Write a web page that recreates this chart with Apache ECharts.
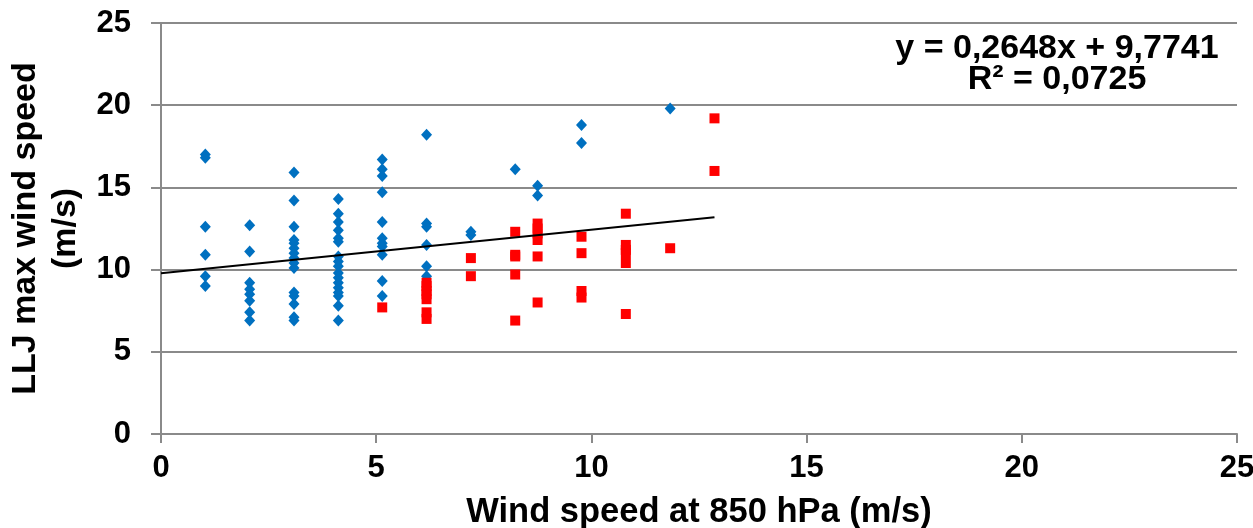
<!DOCTYPE html>
<html>
<head>
<meta charset="utf-8">
<script src="https://cdn.jsdelivr.net/npm/echarts@6/dist/echarts.min.js"></script>
<style>
html,body{margin:0;padding:0;background:#fff;}
#chart{width:1253px;height:528px;}
</style>
</head>
<body>
<div id="chart"></div>
<script>
// Blue series (diamonds)
const blueX = [
  1.03,1.03,1.03,1.03,1.03,1.03,
  2.06,2.06,2.06,2.06,2.06,2.06,2.06,2.06,
  3.09,3.09,3.09,3.09,3.09,3.09,3.09,3.09,3.09,3.09,3.09,3.09,3.09,3.09,3.09,
  4.12,4.12,4.12,4.12,4.12,4.12,4.12,4.12,4.12,4.12,4.12,4.12,4.12,4.12,4.12,4.12,4.12,
  5.14,5.14,5.14,5.14,5.14,5.14,5.14,5.14,5.14,5.14,5.14,
  6.17,6.17,6.17,6.17,6.17,6.17,
  7.2,7.2,
  8.23,
  8.75,8.75,
  9.77,9.77,
  11.83
];
const blueY = [
  17.0,16.8,12.6,10.9,9.6,9.0,
  12.7,11.1,9.2,8.8,8.5,8.1,7.4,6.9,
  15.9,14.2,12.6,11.8,11.6,11.3,11.0,10.7,10.4,10.1,8.6,8.4,7.9,7.1,6.9,
  14.3,13.4,12.9,12.4,11.9,11.7,10.8,10.5,10.2,9.8,9.5,9.2,8.9,8.6,8.4,7.8,6.9,
  16.7,16.1,15.7,14.7,12.9,11.9,11.6,11.4,10.9,9.3,8.4,
  18.2,12.8,12.6,11.5,10.2,9.6,
  12.3,12.1,
  16.1,
  15.1,14.5,
  18.8,17.7,
  19.8
];
// Red series (squares)
const redX = [
  5.14,
  6.17,6.17,6.17,6.17,6.17,6.17,6.17,
  7.2,7.2,
  8.23,8.23,8.23,8.23,8.23,
  8.75,8.75,8.75,8.75,8.75,8.75,
  9.77,9.77,9.77,9.77,
  10.8,10.8,10.8,10.8,10.8,10.8,
  11.83,
  12.86,12.86
];
const redY = [
  7.7,
  9.2,9.0,8.7,8.5,8.2,7.4,7.0,
  10.7,9.6,
  12.3,10.9,10.8,9.7,6.9,
  12.8,12.5,12.2,11.8,10.8,8.0,
  12.0,11.0,8.7,8.3,
  13.4,11.5,11.2,11.0,10.4,7.3,
  11.3,
  19.2,16.0
];
// Linear trendline (from the equation shown on the chart)
const trendSlope = 0.2648;
const trendIntercept = 9.7741;
const trendR2 = '0,0725';
const trendRange = [0, 12.86];
// Axis ticks
const xTicks = [0, 5, 10, 15, 20, 25];
const yTicks = [0, 5, 10, 15, 20, 25];

const pairs = (xs, ys) => xs.map((x, i) => [x, ys[i]]);
const trendData = trendRange.map(x => [x, trendSlope * x + trendIntercept]);
const eqText = 'y = ' + String(trendSlope).replace('.', ',') + 'x + ' + String(trendIntercept).replace('.', ',') + '\nR² = ' + trendR2;

const FONT = '"Liberation Sans", Arial, sans-serif';
const chart = echarts.init(document.getElementById('chart'), null, {renderer: 'canvas'});
chart.setOption({
  animation: false,
  backgroundColor: '#ffffff',
  grid: {left: 161, right: 16, top: 23, bottom: 94, containLabel: false, outerBoundsMode: 'none'},
  xAxis: {
    type: 'value', min: xTicks[0], max: xTicks[xTicks.length - 1], interval: 5,
    name: 'Wind speed at 850 hPa (m/s)', nameLocation: 'middle', nameGap: 61,
    nameTextStyle: {fontFamily: FONT, fontWeight: 'bold', fontSize: 34.5, color: '#000'},
    axisLine: {show: true, onZero: false, lineStyle: {color: '#8a8a8a', width: 2}},
    axisTick: {show: true, length: 9, inside: false, lineStyle: {color: '#8a8a8a', width: 2}},
    axisLabel: {margin: 19, fontFamily: FONT, fontWeight: 'bold', fontSize: 31, color: '#000'},
    splitLine: {show: false}
  },
  yAxis: {
    type: 'value', min: yTicks[0], max: yTicks[yTicks.length - 1], interval: 5,
    name: 'LLJ max wind speed\n(m/s)', nameLocation: 'middle', nameGap: 74, nameRotate: 90,
    nameTextStyle: {fontFamily: FONT, fontWeight: 'bold', fontSize: 34, color: '#000', lineHeight: 40, align: 'center'},
    axisLine: {show: true, onZero: false, lineStyle: {color: '#8a8a8a', width: 2}},
    axisTick: {show: true, length: 10, inside: false, lineStyle: {color: '#8a8a8a', width: 2}},
    axisLabel: {margin: 30, fontFamily: FONT, fontWeight: 'bold', fontSize: 31, color: '#000'},
    splitLine: {show: true, lineStyle: {color: '#8a8a8a', width: 2}}
  },
  graphic: [{
    type: 'text', x: 1057, y: 33, z: 100,
    style: {text: eqText, textAlign: 'center', textVerticalAlign: 'top', fill: '#000',
      font: 'bold 34px ' + FONT, lineHeight: 31}
  }],
  series: [
    {type: 'scatter', name: 'blue', data: pairs(blueX, blueY), symbol: 'diamond', symbolSize: [11, 12],
      itemStyle: {color: '#0070C0', opacity: 1}, z: 2},
    {type: 'scatter', name: 'red', data: pairs(redX, redY), symbol: 'rect', symbolSize: 10,
      itemStyle: {color: '#FF0000', opacity: 1}, z: 3},
    {type: 'line', name: 'trend', data: trendData, showSymbol: false, symbol: 'none',
      lineStyle: {color: '#000', width: 2}, z: 4, silent: true}
  ]
});
</script>
</body>
</html>
